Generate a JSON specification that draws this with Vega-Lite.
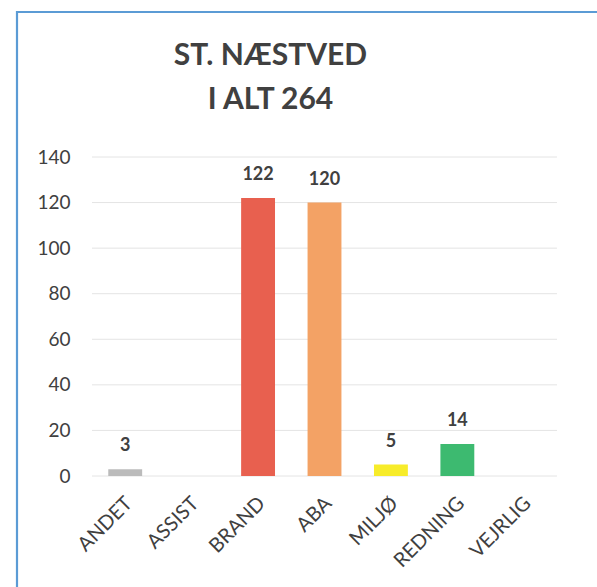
{
  "$schema": "https://vega.github.io/schema/vega-lite/v6.json",
  "autosize": {"type": "none"},
  "padding": {"left": 17, "top": 12, "right": -3, "bottom": -3},
  "width": 583,
  "height": 578,
  "background": "white",
  "config": {
    "font": "Lato",
    "view": {"stroke": "#5b9bd5", "strokeWidth": 2.2}
  },
  "title": {
    "text": ["ST. NÆSTVED", "I ALT 264"],
    "fontSize": 30,
    "fontWeight": "bold",
    "color": "#404040",
    "lineHeight": 44,
    "anchor": "middle",
    "dx": -38,
    "baseline": "top",
    "offset": -103
  },
  "datasets": {
    "counts": [
      {"category": "ANDET", "value": 3},
      {"category": "ASSIST", "value": 0},
      {"category": "BRAND", "value": 122},
      {"category": "ABA", "value": 120},
      {"category": "MILJØ", "value": 5},
      {"category": "REDNING", "value": 14},
      {"category": "VEJRLIG", "value": 0}
    ],
    "grid": [
      {"tick": 0}, {"tick": 20}, {"tick": 40}, {"tick": 60},
      {"tick": 80}, {"tick": 100}, {"tick": 120}, {"tick": 140}
    ]
  },
  "layer": [
    {
      "data": {"name": "grid"},
      "mark": {"type": "rule", "color": "#e4e4e4", "strokeWidth": 1},
      "encoding": {
        "y": {"field": "tick", "type": "quantitative"},
        "x": {"datum": "ANDET", "type": "nominal", "bandPosition": -0.48},
        "x2": {"datum": "VEJRLIG", "bandPosition": 1.48}
      }
    },
    {
      "data": {"name": "counts"},
      "mark": {"type": "bar"},
      "encoding": {
        "x": {
          "field": "category",
          "type": "nominal",
          "sort": null,
          "scale": {
            "domain": ["ANDET", "ASSIST", "BRAND", "ABA", "MILJØ", "REDNING", "VEJRLIG"],
            "range": [75, 540],
            "paddingInner": 0.49,
            "paddingOuter": 0.245
          },
          "axis": {
            "title": null,
            "orient": "bottom",
            "offset": -114,
            "domain": false,
            "ticks": false,
            "labelAngle": -45,
            "labelPadding": 24,
            "labelOffset": 4,
            "labelFontSize": 20,
            "labelColor": "#404040"
          }
        },
        "y": {
          "field": "value",
          "type": "quantitative",
          "scale": {"domain": [0, 140], "range": [464, 145], "nice": false},
          "axis": {
            "title": null,
            "offset": -75,
            "values": [0, 20, 40, 60, 80, 100, 120, 140],
            "domain": false,
            "ticks": false,
            "grid": false,
            "labelPadding": 22,
            "labelFontSize": 19,
            "labelColor": "#404040"
          }
        },
        "color": {
          "field": "category",
          "type": "nominal",
          "scale": {
            "domain": ["ANDET", "ASSIST", "BRAND", "ABA", "MILJØ", "REDNING", "VEJRLIG"],
            "range": ["#bbbbbb", "#a5a5a5", "#e8604f", "#f3a265", "#f7ec2a", "#3dba70", "#5b9bd5"]
          },
          "legend": null
        }
      }
    },
    {
      "data": {"name": "counts"},
      "transform": [{"filter": "datum.value > 0"}],
      "mark": {"type": "text", "fontWeight": "bold", "fontSize": 18, "color": "#404040", "baseline": "alphabetic", "dy": -18},
      "encoding": {
        "x": {"field": "category", "type": "nominal", "sort": null},
        "y": {"field": "value", "type": "quantitative"},
        "text": {"field": "value", "type": "quantitative"}
      }
    }
  ]
}
